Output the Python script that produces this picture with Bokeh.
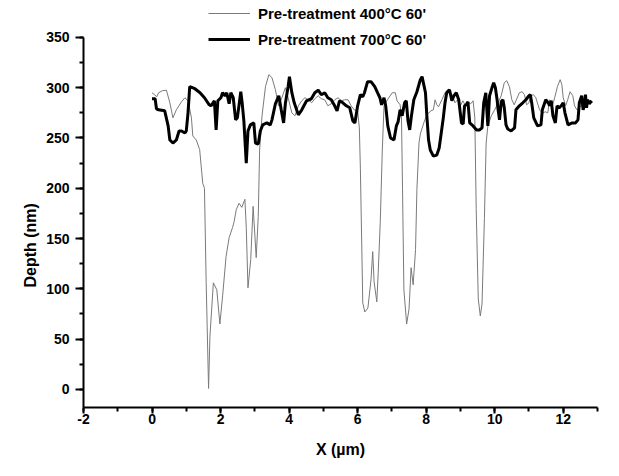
from bokeh.plotting import figure
from bokeh.models import (Range1d, SingleIntervalTicker, Legend, LegendItem,
                          CustomJSTickFormatter, Title)
from bokeh.embed import file_html
from bokeh.resources import INLINE

# ---- data ----
thin_label = "Pre-treatment 400°C 60'"
thick_label = "Pre-treatment 700°C 60'"

thin_x = [0.0, 0.14, 0.19, 0.3, 0.42, 0.52, 0.61, 0.71, 0.86, 0.96, 1.05, 1.15, 1.19, 1.29, 1.39,
          1.48, 1.53, 1.58, 1.65, 1.69, 1.79, 1.89, 1.98, 2.06, 2.16, 2.25, 2.35, 2.39, 2.46, 2.54,
          2.62, 2.71, 2.75, 2.8, 2.88, 2.95, 3.04, 3.1, 3.14, 3.21, 3.31, 3.41, 3.5, 3.6, 3.69,
          3.79, 3.89, 3.98, 4.08, 4.17, 4.27, 4.37, 4.46, 4.56, 4.66, 4.75, 4.85, 4.94, 5.04, 5.13,
          5.23, 5.33, 5.43, 5.52, 5.62, 5.72, 5.81, 5.9, 6.0, 6.05, 6.08, 6.15, 6.21, 6.3, 6.39,
          6.44, 6.48, 6.56, 6.6, 6.66, 6.72, 6.77, 6.87, 7.01, 7.1, 7.15, 7.24, 7.28, 7.31, 7.35,
          7.43, 7.5, 7.56, 7.62, 7.69, 7.73, 7.79, 7.83, 7.93, 8.02, 8.14, 8.21, 8.26, 8.31, 8.36,
          8.46, 8.55, 8.63, 8.7, 8.77, 8.84, 8.92, 9.0, 9.07, 9.15, 9.24, 9.3, 9.37, 9.42, 9.46,
          9.52, 9.58, 9.63, 9.7, 9.75, 9.8, 9.9, 10.0, 10.1, 10.19, 10.28, 10.35, 10.43, 10.5,
          10.57, 10.62, 10.72, 10.8, 10.87, 10.93, 11.0, 11.05, 11.13, 11.2, 11.31, 11.39, 11.48,
          11.55, 11.6, 11.67, 11.75, 11.83, 11.91, 11.96, 12.0, 12.07, 12.13, 12.2, 12.28, 12.33,
          12.4, 12.5, 12.6, 12.7, 12.8, 12.85]
thin_y = [295, 291, 295, 297, 297.5, 285, 270, 278, 286, 290, 287, 270, 252, 248, 238.5,
          205, 200, 106, 1, 53, 106, 99, 65, 93, 132, 151, 161, 166, 179, 185,
          181, 189, 161, 101, 129, 182, 131, 172, 238, 272, 301, 313, 310, 298, 282,
          290, 300, 289, 275, 272, 282, 287, 290, 288, 285, 289, 292, 289, 288, 282,
          284, 288, 290, 287, 288, 288, 282, 278, 277, 260, 220, 86, 77, 81, 109,
          137, 107, 87, 116, 166, 238, 282, 288, 295, 295, 287, 283, 270, 200, 99,
          65, 80, 121, 104, 139, 199, 245, 254, 265, 273, 277, 278, 288, 283, 281,
          288, 295, 298, 296, 292, 285, 288, 282, 287, 282, 285, 284, 287, 270, 180,
          90, 73, 85, 170, 245, 262, 272, 278, 285, 292, 305, 307, 301, 288,
          283, 287, 295, 296, 293, 283, 285, 292, 293, 290, 278, 275, 276,
          275, 288, 280, 290, 301, 308, 303, 290, 282, 288, 296, 292, 282,
          278, 281, 285, 288, 287, 285]

thick_x = [0.0, 0.09, 0.13, 0.19, 0.37, 0.47, 0.52, 0.61, 0.71, 0.79, 0.86, 0.96, 1.0, 1.05, 1.1,
           1.25, 1.4, 1.53, 1.67, 1.72, 1.82, 1.87, 1.92, 2.01, 2.06, 2.13, 2.18, 2.25, 2.3, 2.37,
           2.44, 2.49, 2.59, 2.63, 2.68, 2.75, 2.8, 2.87, 2.97, 3.02, 3.1, 3.16, 3.23, 3.35, 3.45,
           3.5, 3.6, 3.7, 3.77, 3.84, 3.89, 3.97, 4.01, 4.08, 4.15, 4.22, 4.27, 4.37, 4.51, 4.65,
           4.75, 4.85, 4.94, 5.04, 5.13, 5.23, 5.33, 5.4, 5.47, 5.57, 5.67, 5.77, 5.86, 5.92, 6.0,
           6.08, 6.15, 6.2, 6.29, 6.39, 6.5, 6.58, 6.65, 6.7, 6.77, 6.82, 6.88, 6.96, 7.06, 7.13,
           7.18, 7.24, 7.3, 7.37, 7.42, 7.47, 7.52, 7.57, 7.64, 7.73, 7.83, 7.88, 7.93, 7.98, 8.02,
           8.07, 8.12, 8.21, 8.31, 8.38, 8.44, 8.5, 8.55, 8.6, 8.68, 8.75, 8.81, 8.88, 8.95, 9.03,
           9.08, 9.12, 9.17, 9.22, 9.27, 9.37, 9.47, 9.56, 9.63, 9.68, 9.74, 9.8, 9.85, 9.93, 9.97,
           10.02, 10.07, 10.1, 10.14, 10.19, 10.24, 10.28, 10.33, 10.38, 10.48, 10.58, 10.62, 10.72,
           10.82, 10.91, 11.0, 11.04, 11.08, 11.14, 11.25, 11.35, 11.39, 11.49, 11.58, 11.6, 11.65,
           11.7, 11.77, 11.82, 11.88, 11.94, 12.0, 12.05, 12.14, 12.26, 12.36, 12.43, 12.47, 12.54,
           12.58, 12.62, 12.65, 12.68, 12.71, 12.76, 12.83]
thick_y = [289, 289, 279, 278, 277, 262, 248, 245, 248, 257, 257, 255, 257, 275, 301,
           299, 295, 290, 283, 282, 287, 258, 287, 290, 295, 292, 295, 284, 295, 290,
           268, 270, 296, 285, 267, 225, 257, 263, 265, 245, 244, 257, 263, 265, 263,
           268, 284, 292, 278, 265, 284, 301, 311, 295, 285, 278, 273, 278, 287, 289,
           295, 297.5, 293, 295, 290, 288, 282, 277, 287, 285, 282, 280, 267, 265, 282,
           293, 291, 295, 306, 306, 301, 295, 290, 283, 290, 282, 262, 250, 248, 262,
           266, 278, 272, 285, 287, 267, 258, 272, 288, 296, 308, 311, 303, 295, 272,
           248, 238, 232, 233, 240, 255, 270, 285, 295, 298, 287, 292, 295, 288, 265,
           264, 282, 283, 286, 265, 262, 258, 258, 260, 285, 295, 262, 292, 301, 305,
           300, 288, 278, 268, 286, 288, 280, 263, 259, 257, 260, 278, 282,
           285, 288, 292, 293, 285, 270, 262, 263, 278, 288, 284, 282, 287,
           272, 265, 282, 280, 282, 285, 275, 263, 265, 265, 268, 285, 292,
           278, 283, 293, 280, 288, 284, 287]

x_axis_range = (-2, 13)
y_axis_range = (-18, 350)
x_title = "X (µm)"
y_title = "Depth (nm)"

FONT = "Liberation Sans"

p = figure(width=603, height=460, output_backend="svg", toolbar_location=None,
           x_range=Range1d(-2, 13), y_range=Range1d(-18, 386.7),
           min_border_left=83, min_border_right=6, min_border_top=0, min_border_bottom=52)
p.outline_line_color = None
p.xgrid.visible = False
p.ygrid.visible = False
p.background_fill_color = "white"
p.border_fill_color = "white"

r_thin = p.line(thin_x, thin_y, line_color="#7a7a7a", line_width=1)
r_thick = p.line(thick_x, thick_y, line_color="black", line_width=3)

p.xaxis.ticker = SingleIntervalTicker(interval=2, num_minor_ticks=2)
p.yaxis.ticker = SingleIntervalTicker(interval=50, num_minor_ticks=2)
p.xaxis.bounds = x_axis_range
p.yaxis.bounds = y_axis_range
p.xaxis.axis_label = x_title
fmt = CustomJSTickFormatter(code="return tick.toString();")
for ax in (p.xaxis, p.yaxis):
    ax.formatter = fmt
    ax.axis_line_width = 2
    ax.axis_line_color = "black"
    ax.major_tick_line_width = 2
    ax.minor_tick_line_width = 2
    ax.major_tick_in = 0
    ax.minor_tick_in = 0
    ax.minor_tick_out = 4
    ax.major_label_text_font = FONT
    ax.major_label_text_font_style = "bold"
    ax.major_label_text_font_size = "14px"
    ax.major_label_text_color = "black"
    ax.axis_label_text_font = FONT
    ax.axis_label_text_font_style = "bold"
    ax.axis_label_text_font_size = "16px"
    ax.axis_label_text_color = "black"
p.yaxis.major_tick_out = 8
p.yaxis.major_label_standoff = 6
p.xaxis.major_tick_out = 6
p.xaxis.major_label_standoff = 0
p.xaxis.axis_label_standoff = 14

# y title as a side title, started a fixed distance above the frame bottom
ytitle = Title(text=y_title, align="left", offset=120, vertical_align="middle",
               standoff=8, text_font=FONT, text_font_style="bold",
               text_font_size="16px", text_color="black")
p.add_layout(ytitle, "left")

legend = Legend(items=[LegendItem(label=thin_label, renderers=[r_thin]),
                       LegendItem(label=thick_label, renderers=[r_thick])],
                location=(125, 357), orientation="vertical",
                glyph_width=42, glyph_height=22, label_standoff=8, spacing=4,
                padding=0, margin=0, border_line_color=None, background_fill_alpha=0,
                label_text_font=FONT, label_text_font_style="bold",
                label_text_font_size="15px", label_text_color="black")
p.add_layout(legend, "center")

open("out.html", "w").write(file_html(p, INLINE))
